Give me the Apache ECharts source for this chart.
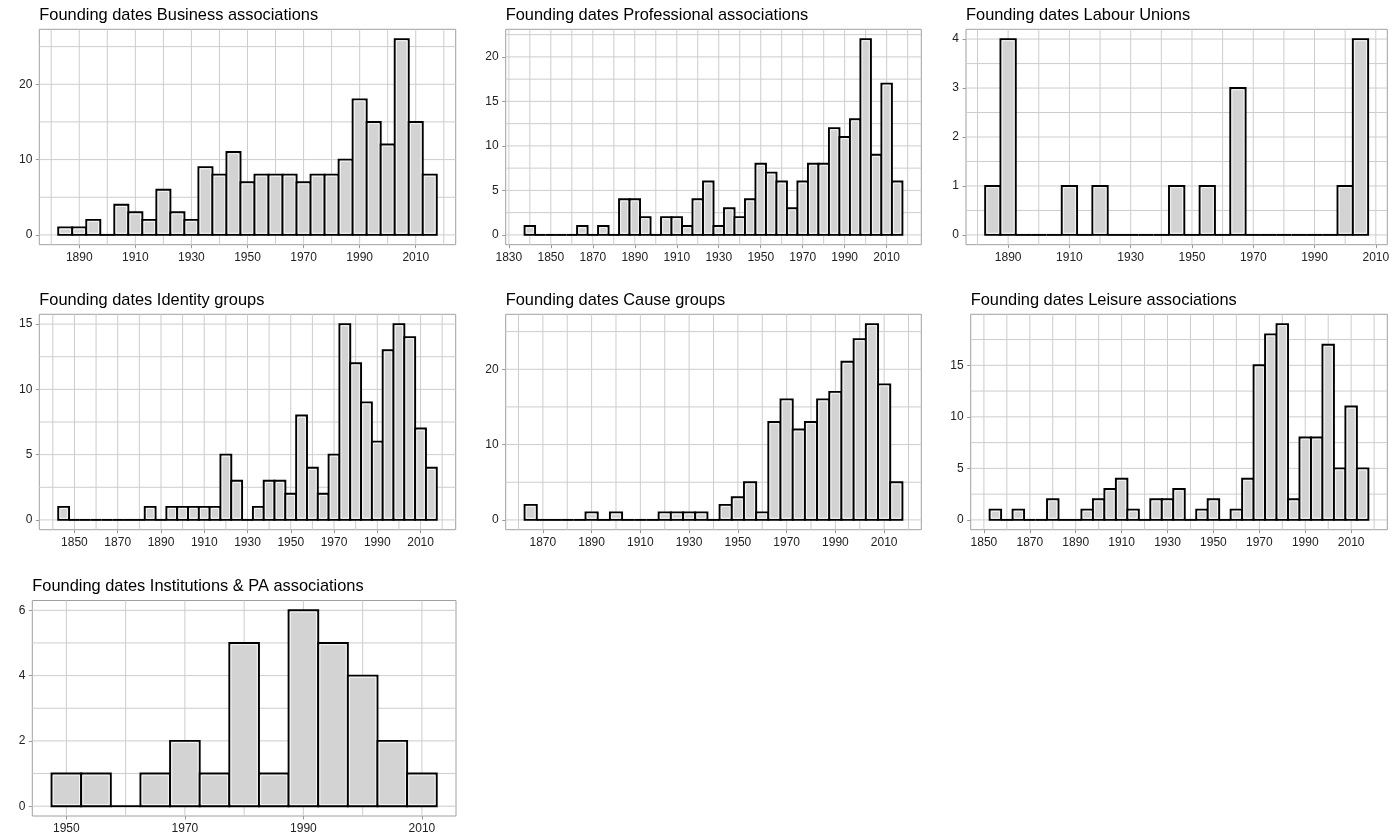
<!DOCTYPE html>
<html>
<head>
<meta charset="utf-8">
<script src="https://cdn.jsdelivr.net/npm/echarts@6/dist/echarts.min.js"></script>
<style>
html,body{margin:0;padding:0;background:#fff;}
#chart{width:1394px;height:839px;}
</style>
</head>
<body>
<div id="chart"></div>
<script>
// ---------------- DATA ----------------
const BIN_WIDTH = 5;
const panelTitles = [
  'Founding dates Business associations',
  'Founding dates Professional associations',
  'Founding dates Labour Unions',
  'Founding dates Identity groups',
  'Founding dates Cause groups',
  'Founding dates Leisure associations',
  'Founding dates Institutions & PA associations'
];
// centre year of the first 5-year bin for each panel
const firstBinCentres = [1885, 1840, 1885, 1845, 1865, 1855, 1950];

const businessCounts     = [1,1,2,0,4,3,2,6,3,2,9,8,11,7,8,8,8,7,8,8,10,18,15,12,26,15,8];
const professionalCounts = [1,0,0,0,0,1,0,1,0,4,4,2,0,2,2,1,4,6,1,3,2,4,8,7,6,3,6,8,8,12,11,13,22,9,17,6];
const labourCounts       = [1,4,0,0,0,1,0,1,0,0,0,0,1,0,1,0,3,0,0,0,0,0,0,1,4];
const identityCounts     = [1,0,0,0,0,0,0,0,1,0,1,1,1,1,1,5,3,0,1,3,3,2,8,4,2,5,15,12,9,6,13,15,14,7,4];
const causeCounts        = [2,0,0,0,0,1,0,1,0,0,0,1,1,1,1,0,2,3,5,1,13,16,12,13,16,17,21,24,26,18,5];
const leisureCounts      = [1,0,1,0,0,2,0,0,1,2,3,4,1,0,2,2,3,0,1,2,0,1,4,15,18,19,2,8,8,17,5,11,5];
const institutionsCounts = [1,1,0,1,2,1,5,1,6,5,4,2,1];

const allCounts = [businessCounts, professionalCounts, labourCounts, identityCounts,
                   causeCounts, leisureCounts, institutionsCounts];

const xTickLabels = [
  [1890,1910,1930,1950,1970,1990,2010],
  [1830,1850,1870,1890,1910,1930,1950,1970,1990,2010],
  [1890,1910,1930,1950,1970,1990,2010],
  [1850,1870,1890,1910,1930,1950,1970,1990,2010],
  [1870,1890,1910,1930,1950,1970,1990,2010],
  [1850,1870,1890,1910,1930,1950,1970,1990,2010],
  [1950,1970,1990,2010]
];
const yTickLabels = [
  [0,10,20],
  [0,5,10,15,20],
  [0,1,2,3,4],
  [0,5,10,15],
  [0,10,20],
  [0,5,10,15],
  [0,2,4,6]
];

// ---------------- LAYOUT ----------------
const boxes = [
  {l:39.3,  r:455.7,  t:29.3,  b:244.7},
  {l:505.7, r:921.3,  t:29.3,  b:244.7},
  {l:966,   r:1387.3, t:29.3,  b:244.7},
  {l:39.3,  r:455.7,  t:314.3, b:529.7},
  {l:505.7, r:921.3,  t:314.3, b:529.7},
  {l:970.7, r:1387.3, t:314.3, b:529.7},
  {l:32.3,  r:456,    t:600.5, b:816}
];
const titleTops = [5, 5, 5, 290, 290, 290, 576];

const FONT = "'Liberation Sans', Arial, Helvetica, sans-serif";
const GRID_COLOR = '#cdcdcd';
const BORDER_COLOR = '#a0a0a0';
const TICK_COLOR = '#999999';
const LABEL_COLOR = '#222222';

// gridline positions: major ticks plus midpoints (ggplot-style minor breaks)
function withMinor(ticks, lo, hi) {
  const step = ticks[1] - ticks[0];
  const out = [];
  const first = ticks[0] - step / 2;
  for (let v = first; v <= ticks[ticks.length - 1] + step / 2 + 1e-9; v += step / 2) {
    if (v >= lo && v <= hi) out.push(v);
  }
  return out;
}

const option = {
  animation: false,
  backgroundColor: '#ffffff',
  title: [], grid: [], xAxis: [], yAxis: [], series: []
};

allCounts.forEach((counts, i) => {
  const first = firstBinCentres[i];
  const binLo = first - BIN_WIDTH / 2;
  const binHi = first + (counts.length - 1) * BIN_WIDTH + BIN_WIDTH / 2;
  const xPad = 0.05 * (binHi - binLo);
  const xMin = binLo - xPad, xMax = binHi + xPad;
  const yMaxData = Math.max.apply(null, counts);
  const yMin = -0.05 * yMaxData, yMax = yMaxData * 1.05;
  const bx = boxes[i];

  option.title.push({
    text: panelTitles[i],
    left: bx.l, top: titleTops[i], padding: 0,
    textStyle: {fontFamily: FONT, fontSize: 16.4, fontWeight: 'normal', color: '#000', lineHeight: 20}
  });
  option.grid.push({
    left: bx.l, top: bx.t, width: bx.r - bx.l, height: bx.b - bx.t,
    show: true, borderColor: BORDER_COLOR, borderWidth: 1, backgroundColor: 'transparent',
    containLabel: false, outerBoundsMode: 'none'
  });
  option.xAxis.push({
    type: 'value', gridIndex: i, min: xMin, max: xMax,
    axisLine: {show: false, onZero: false},
    axisTick: {show: true, length: 3.5, lineStyle: {color: TICK_COLOR, width: 1}, customValues: xTickLabels[i]},
    axisLabel: {show: true, margin: 7, color: LABEL_COLOR, fontFamily: FONT, fontSize: 12, customValues: xTickLabels[i],
                formatter: v => String(v)},
    splitLine: {show: false}
  });
  option.yAxis.push({
    type: 'value', gridIndex: i, min: yMin, max: yMax,
    axisLine: {show: false, onZero: false},
    axisTick: {show: true, length: 3.5, lineStyle: {color: TICK_COLOR, width: 1}, customValues: yTickLabels[i]},
    axisLabel: {show: true, margin: 7, color: LABEL_COLOR, fontFamily: FONT, fontSize: 12, customValues: yTickLabels[i],
                formatter: v => String(v)},
    splitLine: {show: false}
  });

  // vertical gridlines
  const vLines = withMinor(xTickLabels[i], xMin, xMax).map(v => [v, 0]);
  option.series.push({
    type: 'custom', xAxisIndex: i, yAxisIndex: i, z: 1, silent: true,
    data: vLines,
    renderItem: function (params, api) {
      const p = api.coord([api.value(0), 0]);
      const cs = params.coordSys;
      return {type: 'line', shape: {x1: p[0], y1: cs.y, x2: p[0], y2: cs.y + cs.height},
              style: {stroke: GRID_COLOR, lineWidth: 1}};
    }
  });
  // horizontal gridlines
  const hLines = withMinor(yTickLabels[i], yMin, yMax).map(v => [xMin, v]);
  option.series.push({
    type: 'custom', xAxisIndex: i, yAxisIndex: i, z: 1, silent: true,
    data: hLines,
    renderItem: function (params, api) {
      const p = api.coord([api.value(0), api.value(1)]);
      const cs = params.coordSys;
      return {type: 'line', shape: {x1: cs.x, y1: p[1], x2: cs.x + cs.width, y2: p[1]},
              style: {stroke: GRID_COLOR, lineWidth: 1}};
    }
  });
  // histogram bars
  option.series.push({
    type: 'custom', xAxisIndex: i, yAxisIndex: i, z: 3, silent: true,
    data: counts.map((c, k) => [first + k * BIN_WIDTH, c]),
    renderItem: function (params, api) {
      const x = api.value(0), c = api.value(1);
      const a = api.coord([x - BIN_WIDTH / 2, c]);
      const b = api.coord([x + BIN_WIDTH / 2, 0]);
      if (c === 0) {
        return {type: 'line', shape: {x1: a[0], y1: b[1], x2: b[0], y2: b[1]},
                style: {stroke: '#000', lineWidth: 1.9}};
      }
      const w = b[0] - a[0], h = b[1] - a[1];
      const children = [
        {type: 'rect', shape: {x: a[0], y: a[1], width: w, height: h},
         style: {fill: '#d3d3d3', stroke: '#000', lineWidth: 1.9}}
      ];
      if (h > 4 && w > 4) {
        children.push({type: 'rect', shape: {x: a[0] + 1.7, y: a[1] + 1.7, width: w - 3.4, height: h - 3.4},
                       style: {fill: null, stroke: 'rgba(255,255,255,0.85)', lineWidth: 0.9}});
      }
      return {type: 'group', children: children};
    }
  });
});

const chart = echarts.init(document.getElementById('chart'), null, {renderer: 'canvas'});
chart.setOption(option);
</script>
</body>
</html>
